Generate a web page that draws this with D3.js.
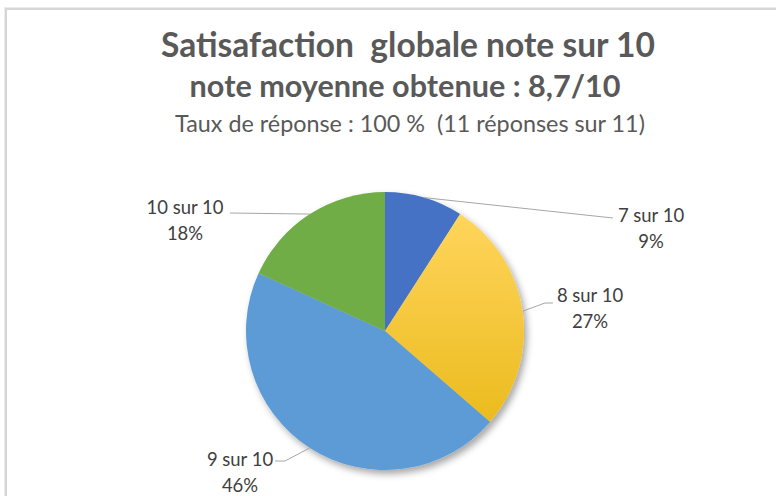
<!DOCTYPE html>
<html><head><meta charset="utf-8">
<script src="https://cdn.jsdelivr.net/npm/d3@7"></script>
<style>html,body{margin:0;padding:0;background:#fff;}svg{display:block;}</style>
</head><body>
<svg id="c" width="776" height="496"></svg>
<script>
// ---- data ----
const categories = ["7 sur 10", "8 sur 10", "9 sur 10", "10 sur 10"];
const responses = [1, 3, 5, 2];
const percentLabels = ["9%", "27%", "46%", "18%"];
const titleLines = ["Satisafaction  globale note sur 10", "note moyenne obtenue : 8,7/10", "Taux de réponse : 100 %  (11 réponses sur 11)"];

// ---- layout / style ----
const W = 776, H = 496;
const cx = 385, cy = 331, R = 139;
const colors = ["#4472C4", "url(#gold)", "#5B9BD5", "#70AD47"];
const labelLayout = [
  {dx: 266, dy: -109, end: [-38, -4], elbow: null},
  {dx: 205, dy: -29, end: [-37, 1], elbow: [-45, 1]},
  {dx: -145, dy: 135, end: [35, -5], elbow: [45, -5]},
  {dx: -200, dy: -117, end: [45, -1], elbow: null}
];

const svg = d3.select("#c");
const defs = svg.append("defs");
const g1 = defs.append("linearGradient").attr("id", "gold").attr("x1", 0).attr("y1", 0).attr("x2", 0).attr("y2", 1);
g1.append("stop").attr("offset", "0%").attr("stop-color", "#FFD55C");
g1.append("stop").attr("offset", "100%").attr("stop-color", "#EBBB1E");
const f = defs.append("filter").attr("id", "sh").attr("x", "-20%").attr("y", "-20%").attr("width", "150%").attr("height", "150%");
f.append("feDropShadow").attr("dx", 3).attr("dy", 4).attr("stdDeviation", 3.5).attr("flood-color", "#000").attr("flood-opacity", 0.35);

svg.append("rect").attr("width", W).attr("height", H).attr("fill", "#fff");
svg.append("rect").attr("x", 4.5).attr("y", 7.5).attr("width", W + 20).attr("height", H + 20)
  .attr("fill", "none").attr("stroke", "#ececec").attr("stroke-width", 1);
svg.append("rect").attr("x", 6).attr("y", 9).attr("width", W + 20).attr("height", H + 20)
  .attr("fill", "none").attr("stroke", "#d6d6d6").attr("stroke-width", 2);

function fit(sel, target) {
  const w = sel.node().getComputedTextLength();
  const fs = parseFloat(sel.attr("font-size"));
  sel.attr("font-size", fs * target / w);
  return fs * target / w;
}
const tcx = 408;
const t1 = svg.append("text").attr("x", tcx).attr("y", 57).attr("text-anchor", "middle")
  .attr("font-family", "Lato, 'Open Sans', sans-serif").attr("font-weight", "bold").attr("font-size", 28)
  .attr("fill", "#595959").style("white-space", "pre").text(titleLines[0]);
fit(t1, 494);
const t2 = svg.append("text").attr("x", tcx - 3).attr("y", 97).attr("text-anchor", "middle")
  .attr("font-family", "Lato, 'Open Sans', sans-serif").attr("font-weight", "bold").attr("font-size", 24)
  .attr("fill", "#595959").text(titleLines[1]);
fit(t2, 431);
const t3 = svg.append("text").attr("x", tcx + 2).attr("y", 132).attr("text-anchor", "middle")
  .attr("font-family", "Lato, 'Open Sans', sans-serif").attr("font-size", 18)
  .attr("fill", "#595959").style("white-space", "pre").text(titleLines[2]);
fit(t3, 470);

// label font size fitted on widest label
const probe = svg.append("text").attr("font-family", "Lato, 'Open Sans', sans-serif").attr("font-size", 17).text(categories[3]);
const labelFs = fit(probe, 77);
probe.remove();

const pie = d3.pie().sort(null).value(d => d)(responses);
const arc = d3.arc().innerRadius(0).outerRadius(R);
const gp = svg.append("g").attr("transform", `translate(${cx},${cy})`);
gp.append("g").attr("filter", "url(#sh)").selectAll("path").data(pie).join("path")
  .attr("d", arc).attr("fill", (d, i) => colors[i]);

const outer = d3.arc().innerRadius(R).outerRadius(R);
pie.forEach((d, i) => {
  const L = labelLayout[i];
  const a = outer.centroid(d);
  const pts = [a];
  if (L.elbow) pts.push([L.dx + L.elbow[0], L.dy + L.elbow[1]]);
  pts.push([L.dx + L.end[0], L.dy + L.end[1]]);
  gp.append("path").attr("d", d3.line()(pts)).attr("fill", "none").attr("stroke", "#a6a6a6").attr("stroke-width", 1);
  const t = gp.append("text").attr("x", L.dx).attr("y", L.dy).attr("text-anchor", "middle")
    .attr("font-family", "Lato, 'Open Sans', sans-serif").attr("font-size", labelFs).attr("fill", "#404040");
  t.append("tspan").attr("x", L.dx).text(categories[i]);
  t.append("tspan").attr("x", L.dx).attr("dy", 25.5).text(percentLabels[i]);
});
</script>
</body></html>
